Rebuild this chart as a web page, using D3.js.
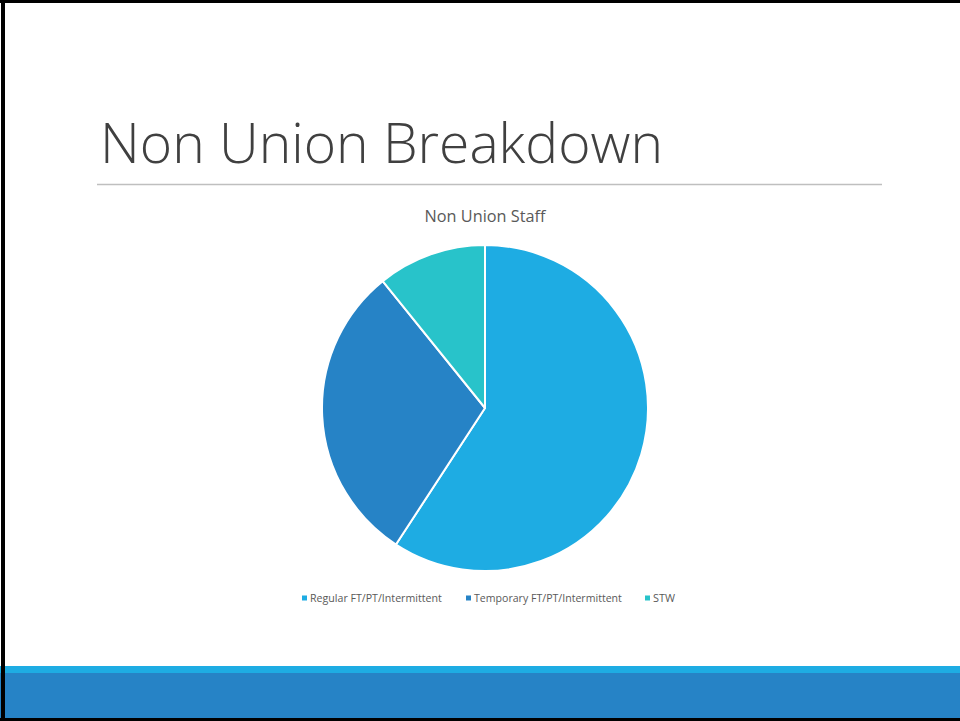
<!DOCTYPE html>
<html>
<head>
<meta charset="utf-8">
<script src="https://cdn.jsdelivr.net/npm/d3@7"></script>
<style>
  html, body { margin: 0; padding: 0; background: #fff; }
  svg { display: block; }
</style>
</head>
<body>
<svg id="slide" width="960" height="721"></svg>
<script>
// Non union staff, share by employment type (percent)
const categories = ["Regular FT/PT/Intermittent", "Temporary FT/PT/Intermittent", "STW"];
const values = [59.2, 30.0, 10.8];
const colors = ["#1EACE3", "#2683C6", "#28C3CA"];
const slideTitle = "Non Union Breakdown";
const chartTitle = "Non Union Staff";

const svg = d3.select("#slide");
const W = 960, H = 721;

// fit a text element to a target width by adjusting font size
function fitWidth(sel, target) {
  const node = sel.node();
  const fs = parseFloat(sel.attr("font-size"));
  const w = node.getComputedTextLength();
  if (w > 0) sel.attr("font-size", (fs * target / w).toFixed(2));
}

// slide title
const t = svg.append("text")
  .attr("x", 100).attr("y", 163)
  .attr("font-family", "'Open Sans', Lato, sans-serif")
  .attr("font-weight", 300)
  .attr("font-size", 56)
  .attr("fill", "#404040")
  .text(slideTitle);
fitWidth(t, 563);

// rule under the title
svg.append("line")
  .attr("x1", 97).attr("x2", 882)
  .attr("y1", 184.5).attr("y2", 184.5)
  .attr("stroke", "#bfbfbf").attr("stroke-width", 1.3);

// chart title
const ct = svg.append("text")
  .attr("x", 485).attr("y", 222)
  .attr("text-anchor", "middle")
  .attr("font-family", "'Open Sans', Lato, sans-serif")
  .attr("font-size", 15)
  .attr("fill", "#595959")
  .text(chartTitle);
fitWidth(ct, 121);

// pie
const cx = 485, cy = 408, r = 163;
const pie = d3.pie().sort(null).value(d => d.value);
const arc = d3.arc().innerRadius(0).outerRadius(r);
const data = categories.map((c, i) => ({ name: c, value: values[i], color: colors[i] }));
const color = d3.scaleOrdinal().domain(categories).range(colors);

svg.append("g")
  .attr("transform", `translate(${cx},${cy})`)
  .selectAll("path")
  .data(pie(data))
  .join("path")
  .attr("d", arc)
  .attr("fill", d => color(d.data.name))
  .attr("stroke", "#ffffff")
  .attr("stroke-width", 2)
  .attr("stroke-linejoin", "round");

// legend
const legendX = [302, 466, 645];
const legendTextW = [132, 148, 22];
const lg = svg.append("g");
categories.forEach((c, i) => {
  lg.append("rect")
    .attr("x", legendX[i]).attr("y", 595.5)
    .attr("width", 5).attr("height", 5)
    .attr("fill", color(c));
  const lt = lg.append("text")
    .attr("x", legendX[i] + 8).attr("y", 602)
    .attr("font-family", "'Open Sans', Lato, sans-serif")
    .attr("font-size", 10.5)
    .attr("fill", "#595959")
    .text(c);
  fitWidth(lt, legendTextW[i]);
});

// footer bands
svg.append("rect").attr("x", 0).attr("y", 666).attr("width", W).attr("height", 7).attr("fill", "#1EACE3");
svg.append("rect").attr("x", 0).attr("y", 673).attr("width", W).attr("height", 45).attr("fill", "#2683C6");

// frame (left, top, bottom)
svg.append("rect").attr("x", 1).attr("y", 0).attr("width", 4).attr("height", H).attr("fill", "#000");
svg.append("rect").attr("x", 0).attr("y", 0).attr("width", W).attr("height", 3).attr("fill", "#000");
svg.append("rect").attr("x", 0).attr("y", 718).attr("width", W).attr("height", 3).attr("fill", "#000");
</script>
</body>
</html>
